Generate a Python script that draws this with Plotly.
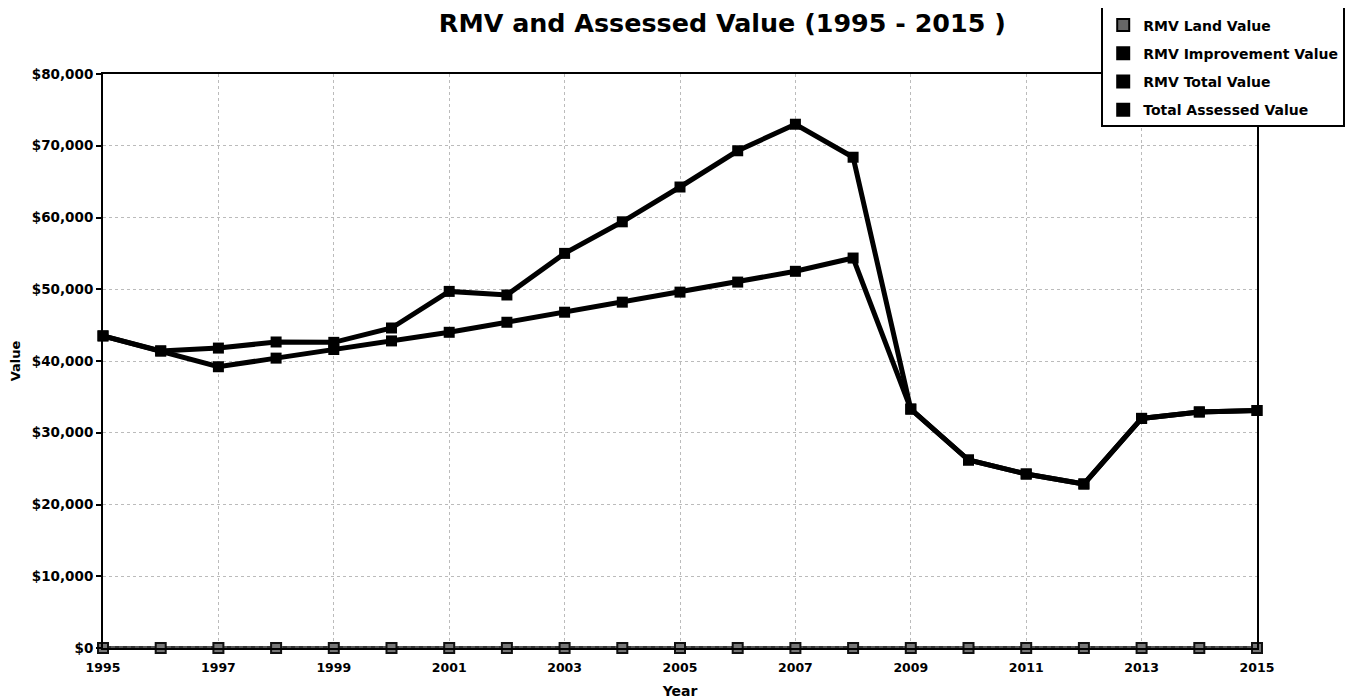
import plotly.graph_objects as go

years = list(range(1995, 2016))
rmv_land = [0] * 21
rmv_improvement = [0] * 21
rmv_total = [43500, 41400, 41800, 42650, 42600, 44600, 49700, 49200, 55000, 59400,
             64250, 69300, 73000, 68400, 33300, 26200, 24250, 22860, 32000, 32900, 33100]
total_assessed = [43500, 41400, 39200, 40400, 41600, 42800, 44000, 45400, 46800, 48200,
                  49600, 51000, 52500, 54350, 33300, 26200, 24250, 22860, 32000, 32900, 33100]

y_ticks = [0, 10000, 20000, 30000, 40000, 50000, 60000, 70000, 80000]
y_labels = ["$0", "$10,000", "$20,000", "$30,000", "$40,000", "$50,000",
            "$60,000", "$70,000", "$80,000"]
x_ticks = list(range(1995, 2016, 2))

series_names = ["RMV Land Value", "RMV Improvement Value", "RMV Total Value", "Total Assessed Value"]

FONT = "DejaVu Sans"

fig = go.Figure()

fig.add_trace(go.Scatter(x=years, y=rmv_improvement, mode="lines+markers", showlegend=False,
                         line=dict(color="#333333", width=4),
                         marker=dict(symbol="square", size=10, color="#222222"),
                         cliponaxis=False))
fig.add_trace(go.Scatter(x=years, y=rmv_land, mode="lines+markers", showlegend=False,
                         line=dict(color="#555555", width=4, dash="dot"),
                         marker=dict(symbol="square", size=10, color="#777777",
                                     line=dict(color="#111111", width=2)),
                         cliponaxis=False))
fig.add_trace(go.Scatter(x=years, y=total_assessed, mode="lines+markers", showlegend=False,
                         line=dict(color="#000000", width=5),
                         marker=dict(symbol="square", size=11, color="#000000"),
                         cliponaxis=False))
fig.add_trace(go.Scatter(x=years, y=rmv_total, mode="lines+markers", showlegend=False,
                         line=dict(color="#000000", width=5),
                         marker=dict(symbol="square", size=11, color="#000000"),
                         cliponaxis=False))

legend_colors = ["#666666", "#000000", "#000000", "#000000"]
for i, (name, col) in enumerate(zip(series_names, legend_colors)):
    fig.add_trace(go.Scatter(x=[None], y=[None], mode="markers", name=name,
                             legendgroup=f"g{i}",
                             marker=dict(symbol="square", size=13, color=col,
                                         line=dict(color="#000000", width=1))))

fig.update_layout(
    width=1358, height=700,
    paper_bgcolor="white", plot_bgcolor="white",
    margin=dict(l=95, r=109, t=66, b=60, autoexpand=False),
    font=dict(family=FONT, color="black", size=12),
    title=dict(text="RMV and Assessed Value (1995 - 2015 )", x=0.526, xref="container",
               xanchor="center", y=0.979, yref="container", yanchor="middle",
               font=dict(family=FONT, size=25.4, weight="bold", color="black")),
    legend=dict(x=0.865, y=1.125, xanchor="left", yanchor="top",
                bgcolor="white", bordercolor="black", borderwidth=2,
                font=dict(family=FONT, size=14, weight="bold"),
                title=dict(text=" ", font=dict(size=4)),
                tracegroupgap=7, itemsizing="constant", entrywidth=225),
)

fig.update_xaxes(range=[1995, 2015], tickvals=x_ticks, ticktext=[str(t) for t in x_ticks],
                 showline=True, linecolor="black", linewidth=2, mirror=True,
                 showgrid=True, gridcolor="#bbbbbb", griddash="dot", gridwidth=1,
                 zeroline=False, ticks="", ticklabelstandoff=7,
                 tickfont=dict(family=FONT, size=12.5, weight="bold"),
                 title=dict(text="Year", standoff=12,
                            font=dict(family=FONT, size=14, weight="bold")))
fig.update_yaxes(range=[0, 80000], tickvals=y_ticks, ticktext=y_labels,
                 showline=True, linecolor="black", linewidth=2, mirror=True,
                 showgrid=True, gridcolor="#bbbbbb", griddash="dot", gridwidth=1,
                 zeroline=False, ticks="outside", ticklen=5, tickwidth=2, tickcolor="black",
                 tickfont=dict(family=FONT, size=13.5, weight="bold"),
                 title=dict(text="Value", standoff=8,
                            font=dict(family=FONT, size=13, weight="bold")))

fig.write_html("out.html")
